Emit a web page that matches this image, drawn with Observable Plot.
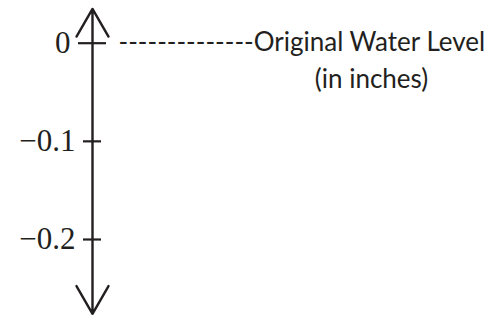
<!DOCTYPE html>
<html><head><meta charset="utf-8">
<script src="https://cdn.jsdelivr.net/npm/d3@7"></script>
<script src="https://cdn.jsdelivr.net/npm/@observablehq/plot@0.6"></script>
<style>body{margin:0;background:#fff}</style>
</head><body><div id="chart"></div>
<script>
// Data
const tickValues = [0, -0.1, -0.2];
const tickLabels = ["0", "−0.1", "−0.2"];
const axisEnds = [0.035, -0.2757];
const levelValue = [0];
const levelLabel = ["--------------Original Water Level"];
const unitLabel = ["(in inches)"];

// Layout / style
const AXIS_X = 92;
const ink = "#231f20";
const ticks = tickValues.map((v, i) => ({value: v, label: tickLabels[i]}));
const half = d => d.value === 0 ? 14 : 9;

const chart = Plot.plot({
  width: 498,
  height: 316,
  margin: 0,
  style: {background: "#fff"},
  x: {type: "identity", axis: null},
  y: {domain: [-0.2, 0], range: [239, 42.7], axis: null},
  marks: [
    Plot.arrow(axisEnds, {x1: AXIS_X, x2: AXIS_X, y1: -0.1, y2: d => d, stroke: ink, strokeWidth: 2.4, headLength: 20, headAngle: 60}),
    Plot.ruleY(ticks, {y: "value", x1: d => AXIS_X - half(d), x2: d => AXIS_X + half(d), stroke: ink, strokeWidth: 2.2}),
    Plot.text(ticks, {y: "value", x: d => AXIS_X - half(d) - 8, text: "label", textAnchor: "end", fontFamily: "Liberation Serif", fontSize: 31, fill: ink}),
    Plot.text(levelValue, {y: d => d, x: 118, text: levelLabel, textAnchor: "start", lineAnchor: "bottom", dy: 8, fontFamily: "Lato", fontSize: 26, fill: ink}),
    Plot.text(levelValue, {y: d => d, x: 371, text: unitLabel, textAnchor: "middle", lineAnchor: "bottom", dy: 45, fontFamily: "Lato", fontSize: 26, fill: ink})
  ]
});
document.getElementById("chart").appendChild(chart);
</script>
</body></html>
